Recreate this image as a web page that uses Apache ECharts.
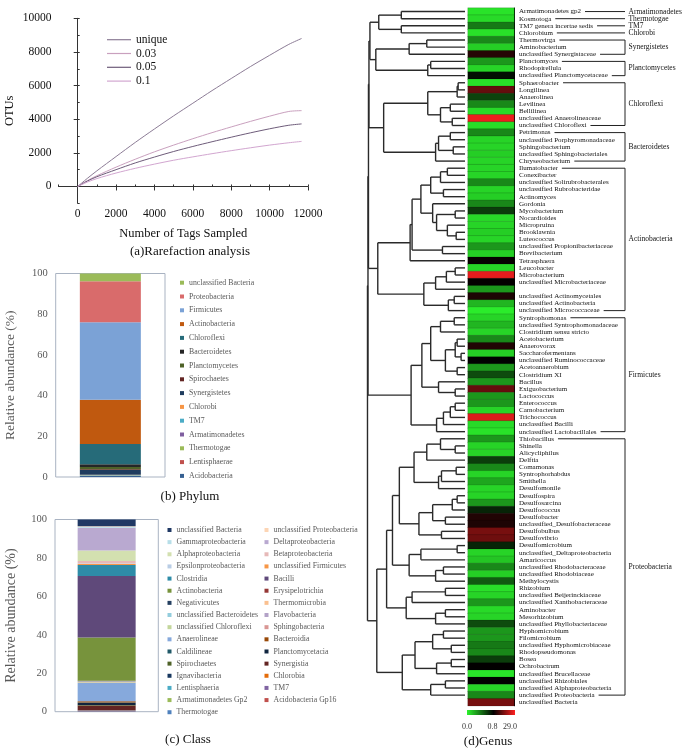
<!DOCTYPE html>
<html><head><meta charset="utf-8">
<script src="https://cdn.jsdelivr.net/npm/echarts@6/dist/echarts.min.js"></script>
<style>html,body{margin:0;padding:0;background:#fff}
.c{position:absolute;left:0;top:0;width:685px;height:753px}</style>
</head><body>
<div id="a" class="c"></div><div id="b" class="c"></div><div id="cc" class="c"></div><div id="d" class="c"></div>
<script>
// ---------- (a) Rarefaction ----------
const tags = [0,500,1000,2000,3000,4000,5000,6000,7000,8000,9000,10000,11000,11667];
const otuUnique = [0,480,930,1780,2620,3420,4200,4950,5700,6420,7130,7800,8450,8800];
const otu003 = [0,350,640,1150,1620,2060,2460,2840,3200,3540,3870,4180,4460,4510];
const otu005 = [0,320,580,1000,1400,1750,2080,2380,2660,2930,3190,3430,3640,3720];
const otu01 = [0,260,470,800,1080,1330,1560,1760,1950,2130,2300,2460,2600,2680];
const rareNames = ['unique','0.03','0.05','0.1'];
const xTickLabels = [0,2000,4000,6000,8000,10000,12000];
const yTickLabels = [0,2000,4000,6000,8000,10000];

// ---------- (b) Phylum ----------
const phylumNames = ['unclassified Bacteria','Proteobacteria','Firmicutes','Actinobacteria','Chloroflexi','Bacteroidetes','Planctomycetes','Spirochaetes','Synergistetes','Chlorobi','TM7','Armatimonadetes','Thermotogae','Lentisphaerae','Acidobacteria'];
const phylumValues = [3.8,20.2,38.0,21.8,9.9,1.4,1.1,0.4,2.3,0.1,0.2,0.1,0.2,0.05,0.45];
const phylumColors = ['#9bbb59','#d96b6b','#7ba2d6','#c0590f','#266b79','#262626','#4f6228','#632523','#1f3c5e','#f79646','#4bacc6','#7f5fa0','#9bbb59','#c0504d','#366092'];

// ---------- (c) Class ----------
const classNames = ['unclassified Bacteria','unclassified Proteobacteria','Gammaproteobacteria','Deltaproteobacteria','Alphaproteobacteria','Betaproteobacteria','Epsilonproteobacteria','unclassified Firmicutes','Clostridia','Bacilli','Actinobacteria','Erysipelotrichia','Negativicutes','Thermomicrobia','unclassified Bacteroidetes','Flavobacteria','unclassified Chloroflexi','Sphingobacteria','Anaerolineae','Bacteroidia','Caldilineae','Planctomycetacia','Spirochaetes','Synergistia','Ignavibacteria','Chlorobia','Lentisphaeria','TM7','Armatimonadetes Gp2','Acidobacteria Gp16','Thermotogae'];
const classValues = [3.5,0.3,0.5,11.85,5.5,1.2,0.3,0.5,5.8,32.0,22.5,0.1,0.1,0.1,0.2,0.1,0.3,0.2,9.5,0.6,0.3,1.0,0.3,2.4,0.1,0.1,0.05,0.2,0.1,0.1,0.2];
const classColors = ['#1f3864','#fcd5b5','#b7dee8','#b9a9d0','#d3e0b0','#e6b9b8','#b9cde5','#f79646','#2e8ca8','#5f497a','#77933c','#953735','#254061','#fac090','#93cddd','#b3a2c7','#c3d69b','#d99694','#86a9dc','#984807','#215968','#10253f','#4f6228','#632523','#17375e','#e46c0a','#4bacc6','#8064a2','#9bbb59','#c0504d','#4f81bd'];

// ---------- (d) Genus ----------
const genusNames = [
'Armatimonadetes gp2','Kosmotoga','TM7 genera incertae sedis','Chlorobium','Thermovirga','Aminobacterium','unclassified Synergistaceae','Planctomyces','Rhodopirellula','unclassified Planctomycetaceae',
'Sphaerobacter','Longilinea','Anaerolinea','Levilinea','Bellilinea','unclassified Anaerolineaceae','unclassified Chloroflexi','Petrimonas','unclassified Porphyromonadaceae','Sphingobacterium',
'unclassified Sphingobacteriales','Chryseobacterium','Ilumatobacter','Conexibacter','unclassified Solirubrobacterales','unclassified Rubrobacteridae','Actinomyces','Gordonia','Mycobacterium','Nocardioides',
'Micropruina','Brooklawnia','Luteococcus','unclassified Propionibacteriaceae','Brevibacterium','Tetrasphaera','Leucobacter','Microbacterium','unclassified Microbacteriaceae','',
'unclassified Actinomycetales','unclassified Actinobacteria','unclassified Micrococcaceae','Syntrophomonas','unclassified Syntrophomonadaceae','Clostridium sensu stricto','Acetobacterium','Anaerovorax','Saccharofermentans','unclassified Ruminococcaceae',
'Acetoanaerobium','Clostridium XI','Bacillus','Exiguobacterium','Lactococcus','Enterococcus','Carnobacterium','Trichococcus','unclassified Bacilli','unclassified Lactobacillales',
'Thiobacillus','Shinella','Alicycliphilus','Delftia','Comamonas','Syntrophorhabdus','Smithella','Desulfomonile','Desulfospira','Desulfosarcina',
'Desulfococcus','Desulfobacter','unclassified_Desulfobacteraceae','Desulfobulbus','Desulfovibrio','Desulfomicrobium','unclassified_Deltaproteobacteria','Amaricoccus','unclassified Rhodobacteraceae','unclassified Rhodobiaceae',
'Methylocystis','Rhizobium','unclassified Beijerinckiaceae','unclassified Xanthobacteraceae','Aminobacter','Mesorhizobium','unclassified Phyllobacteriaceae','Hyphomicrobium','Filomicrobium','unclassified Hyphomicrobiaceae',
'Rhodopseudomonas','Bosea','Ochrobactrum','unclassified Brucellaceae','unclassified Rhizobiales','unclassified Alphaproteobacteria','unclassified Proteobacteria','unclassified Bacteria'];
const genusValues = [
0.05,0.08,0.40,0.06,0.35,0.12,5.0,0.30,0.10,0.75,
0.06,12,0.58,0.35,0.08,27,0.07,0.35,0.10,0.10,
0.12,0.10,0.10,0.10,0.35,0.10,0.12,0.35,0.60,0.08,
0.10,0.12,0.10,0.30,0.12,1.5,0.10,26,1.2,0.30,
4.0,0.20,0.02,0.10,0.20,0.10,0.35,4.5,0.12,0.85,
0.30,0.55,0.30,12,0.30,0.30,0.10,25,0.08,0.05,
0.30,0.10,0.10,0.60,0.35,0.10,0.25,0.10,0.10,0.30,
0.68,4.5,4.0,14,13,0.68,0.10,0.15,0.35,0.12,
0.50,0.06,0.10,0.30,0.08,0.10,0.55,0.30,0.30,0.40,
0.35,0.60,1.0,0.05,0.90,0.10,0.35,14];
const scaleTicks = ['0.0','0.8','29.0'];
// cluster tree: [height, left, right]; leaves are row numbers
const clusterTree =
[99.5,
 [99,
  [98.5,
   [98,
    [97,[88,[65,1,2],[65,3,4]],[91,[57,[39,5,6],7],[38,[35,8,9],10]]],
    [83,[38,[8,[7,11,12],13],[25,[15,14,15],[13,16,17]]],[30,[27,[15,18,19],[12,20,21]],22]]],
   [89,
    [56,[54,[45,[35,[25,[18,23,24],25],[22,26,27]],[33,28,[29,[10,29,30],[18,31,[9,32,33]]]]],[23,34,35]],36],
    [42,[30,[19,[10,37,38],39],40],[17,[11,41,42],43]]]],
  [55,
   [44,[35,[25,[11,44,45],46],[20,[10,[8,47,48],[4,49,50]],[8,51,52]]],[27,53,[10,54,55]]],
   [29,[22,[15,[10,56,57],58],59],60]]],
 [90,
  [80,
   [74,
    [67,[52,[39,[25,61,[10,62,63]],64],[27,[24,[9,65,66],67],68]],[47,[33,[13,[8,69,70],71],[20,72,73]],[24,74,75]]],
    [57,[45,[8,76,77],78],[30,[22,79,80],81]]],
   [60,[54,[20,82,83],84],[30,[20,85,86],87]]],
  [64,[51,[33,[22,88,89],[14,90,91]],[29,[14,92,93],94]],[35,[20,95,96],97]]]];
const phylaGroups = [[1,1,'Armatimonadetes'],[2,2,'Thermotogae'],[3,3,'TM7'],[4,4,'Chlorobi'],[5,7,'Synergistetes'],[8,10,'Planctomycetes'],[11,17,'Chloroflexi'],[18,22,'Bacteroidetes'],[23,43,'Actinobacteria'],[44,60,'Firmicutes'],[61,97,'Proteobacteria']];

const SERIF = "'Liberation Serif', 'DejaVu Serif', serif";
function txt(x,y,s,size,fill){ return {type:'text', x:x, y:y, style:{text:s, font:size+'px '+SERIF, fill:fill||'#111', align:'center', verticalAlign:'middle', textAlign:'center', textVerticalAlign:'middle'}}; }

// ===== chart A =====
const chA = echarts.init(document.getElementById('a'));
const rareData = [otuUnique, otu003, otu005, otu01];
const rareColors = ['#8c7c96','#c9a0be','#6e5c7a','#d2a6d0'];
const plain = v => String(v);
chA.setOption({
  backgroundColor:'#fff', animation:false,
  textStyle:{fontFamily:SERIF},
  legend:{left:102, top:27.8, orient:'vertical', icon:'rect', itemWidth:24, itemHeight:1.2, itemGap:0,
    data:rareNames, textStyle:{fontSize:11.5, lineHeight:13.8, color:'#111', fontFamily:SERIF}},
  grid:{left:58.5, top:18.3, width:249.5, height:185},
  xAxis:[
    {type:'value', min:-1000, max:12000, name:'Number of Tags Sampled', nameLocation:'middle', nameGap:24,
     nameTextStyle:{fontSize:12.5, color:'#111', fontFamily:SERIF},
     axisLine:{lineStyle:{color:'#333'}}, splitLine:{show:false},
     axisTick:{customValues:xTickLabels, length:4, lineStyle:{color:'#333'}},
     axisLabel:{customValues:xTickLabels, formatter:plain, fontSize:11.5, color:'#111', margin:5, fontFamily:SERIF}},
    {type:'value', min:-1000, max:12000, interval:1000, axisLine:{show:false}, splitLine:{show:false},
     axisTick:{length:2, lineStyle:{color:'#333'}}, axisLabel:{show:false}}
  ],
  yAxis:[
    {type:'value', min:-1000, max:10000, name:'OTUs', nameLocation:'middle', nameGap:42,
     nameTextStyle:{fontSize:12.5, color:'#111', fontFamily:SERIF},
     axisLine:{show:true, lineStyle:{color:'#333'}}, splitLine:{show:false},
     axisTick:{show:true, customValues:yTickLabels, length:4, lineStyle:{color:'#333'}},
     axisLabel:{customValues:yTickLabels, formatter:plain, fontSize:11.5, color:'#111', margin:7, fontFamily:SERIF}},
    {type:'value', min:-1000, max:10000, interval:1000, axisLine:{show:false}, splitLine:{show:false},
     axisTick:{show:true, length:2, lineStyle:{color:'#333'}}, axisLabel:{show:false}}
  ],
  series: rareNames.map((n,i)=>({name:n, type:'line', symbol:'none', smooth:0.3,
    lineStyle:{width:1, color:rareColors[i]}, itemStyle:{color:rareColors[i]},
    data: tags.map((t,j)=>[t, rareData[i][j]])})),
  graphic:[txt(190,252,'(a)Rarefaction analysis',13)]
});

// ===== chart B (Phylum) =====
const chB = echarts.init(document.getElementById('b'));
const phylumOrder = phylumNames.slice().reverse();
chB.setOption({
  animation:false, textStyle:{fontFamily:SERIF},
  grid:{left:55.7, top:273.5, width:109.3, height:203.5, show:true, borderColor:'#a9b3c2', borderWidth:1},
  xAxis:{type:'category', data:['Phylum'], show:false},
  yAxis:{type:'value', min:0, max:100, interval:20, name:'Relative abundance (%)', nameLocation:'middle', nameGap:38,
    nameTextStyle:{fontSize:13.5, color:'#595959', fontFamily:SERIF},
    axisLine:{show:false}, axisTick:{show:false}, splitLine:{show:false},
    axisLabel:{fontSize:10.5, color:'#595959', margin:8, fontFamily:SERIF}},
  legend:{left:175, top:270.8, orient:'vertical', icon:'rect', itemWidth:4, itemHeight:4, itemGap:0,
    data:phylumNames, textStyle:{fontSize:7.8, lineHeight:13.8, color:'#595959', fontFamily:SERIF}},
  series: phylumOrder.map(n=>{const i=phylumNames.indexOf(n); return {name:n, type:'bar', stack:'p', barWidth:61,
    itemStyle:{color:phylumColors[i]}, data:[phylumValues[i]]};}),
  graphic:[txt(190,497,'(b) Phylum',13)]
});

// ===== chart C (Class) =====
const chC = echarts.init(document.getElementById('cc'));
const classOrder = classNames.slice().reverse();
chC.setOption({
  animation:false, textStyle:{fontFamily:SERIF},
  grid:{left:55, top:519.5, width:103.3, height:192.2, show:true, borderColor:'#a9b3c2', borderWidth:1},
  xAxis:{type:'category', data:['Class'], show:false},
  yAxis:{type:'value', min:0, max:100, interval:20, name:'Relative abundance (%)', nameLocation:'middle', nameGap:37,
    nameTextStyle:{fontSize:14, color:'#595959', fontFamily:SERIF},
    axisLine:{show:false}, axisTick:{show:false}, splitLine:{show:false},
    axisLabel:{fontSize:10.5, color:'#595959', margin:8, fontFamily:SERIF}},
  legend:[
    {left:162.5, top:518.9, orient:'vertical', icon:'rect', itemWidth:4, itemHeight:4, itemGap:0,
     data:classNames.filter((n,i)=>i%2===0), textStyle:{fontSize:7.8, lineHeight:12.15, color:'#595959', fontFamily:SERIF}},
    {left:259.5, top:518.9, orient:'vertical', icon:'rect', itemWidth:4, itemHeight:4, itemGap:0,
     data:classNames.filter((n,i)=>i%2===1), textStyle:{fontSize:7.8, lineHeight:12.15, color:'#595959', fontFamily:SERIF}}
  ],
  series: classOrder.map(n=>{const i=classNames.indexOf(n); return {name:n, type:'bar', stack:'c', barWidth:58,
    itemStyle:{color:classColors[i]}, data:[classValues[i]]};}),
  graphic:[txt(188,740,'(c) Class',13)]
});

// ===== chart D (Genus) =====
const segs = [];
function layoutTree(node){
  if (typeof node === 'number') return {y:node, h:0};
  const A = layoutTree(node[1]), B = layoutTree(node[2]), h = node[0];
  segs.push([A.h, A.y, h, A.y]);
  segs.push([B.h, B.y, h, B.y]);
  segs.push([h, A.y, h, B.y]);
  return {y:(A.y+B.y)/2, h:h};
}
layoutTree(clusterTree);
function tOf(v){ return v <= 0.8 ? v/0.8 : 1 + (v-0.8)/28.2; }
const GREEN = '#2cf22c', RED = '#ff2020';
const mctx = document.createElement('canvas').getContext('2d');
const LABFONT = "7px 'Liberation Serif'";
function textW(s){ mctx.font = LABFONT; return mctx.measureText(s).width; }
const chD = echarts.init(document.getElementById('d'));
chD.setOption({
  animation:false, textStyle:{fontFamily:SERIF},
  grid:[{left:367, top:8, width:98, height:697.8},{left:468, top:8, width:46, height:697.8}],
  xAxis:[{gridIndex:0, type:'value', min:0, max:100, inverse:true, show:false},
         {gridIndex:1, type:'category', data:['genus'], show:false}],
  yAxis:[{gridIndex:0, type:'value', min:0.5, max:98.5, inverse:true, show:false},
         {gridIndex:1, type:'category', data:genusNames, inverse:true, position:'right',
          axisLine:{show:true, lineStyle:{color:'#000', width:1}}, axisTick:{show:false}, splitLine:{show:false},
          axisLabel:{interval:0, fontSize:7, color:'#111', margin:5, fontFamily:SERIF}}],
  visualMap:{show:false, type:'continuous', dimension:3, min:0, max:2, seriesIndex:1,
    inRange:{color:[GREEN,'#000000',RED]}},
  series:[
    {type:'custom', xAxisIndex:0, yAxisIndex:0, encode:{x:[0,2], y:[1,3]}, data:segs, clip:false,
     renderItem:(p,api)=>{const a=api.coord([api.value(0),api.value(1)]), b=api.coord([api.value(2),api.value(3)]);
       return {type:'line', shape:{x1:a[0],y1:a[1],x2:b[0],y2:b[1]}, style:{stroke:'#2a2a2a', lineWidth:1.4}};}},
    {type:'heatmap', xAxisIndex:1, yAxisIndex:1, data:genusValues.map((v,i)=>[0,i,v,tOf(v)]),
     itemStyle:{borderColor:'rgba(0,0,0,0.3)', borderWidth:0.5}},
    {type:'custom', xAxisIndex:1, yAxisIndex:1, clip:false, encode:{y:[0,1]},
     data:phylaGroups.map((g,k)=>[g[0]-1,g[1]-1,k]),
     renderItem:(p,api)=>{
       const s=api.value(0), e=api.value(1), k=api.value(2);
       const ys=api.coord([0,s])[1], ye=api.coord([0,e])[1];
       const lx=519, vx=625, st={stroke:'#222', lineWidth:1};
       const ch=[];
       ch.push({type:'line', shape:{x1:lx+textW(genusNames[s])+4, y1:ys, x2:vx, y2:ys}, style:st});
       if (e>s){
         ch.push({type:'line', shape:{x1:vx, y1:ys, x2:vx, y2:ye}, style:st});
         ch.push({type:'line', shape:{x1:lx+textW(genusNames[e])+4, y1:ye, x2:vx, y2:ye}, style:st});
       }
       ch.push({type:'text', x:628.5, y:(ys+ye)/2, style:{text:phylaGroups[k][2], font:"7.5px 'Liberation Serif'", fill:'#111', align:'left', verticalAlign:'middle', textAlign:'left', textVerticalAlign:'middle'}});
       return {type:'group', children:ch};
     }}
  ],
  graphic:[
    {type:'rect', shape:{x:467, y:710, width:48, height:5}, style:{fill:{type:'linear', x:0, y:0, x2:1, y2:0, colorStops:[{offset:0,color:GREEN},{offset:0.55,color:'#000'},{offset:1,color:RED}]}}},
    txt(467,727,scaleTicks[0],8,'#333'), txt(492.5,727,scaleTicks[1],8,'#333'), txt(510,727,scaleTicks[2],8,'#333'),
    txt(488,742,'(d)Genus',13)
  ]
});
</script></body></html>
